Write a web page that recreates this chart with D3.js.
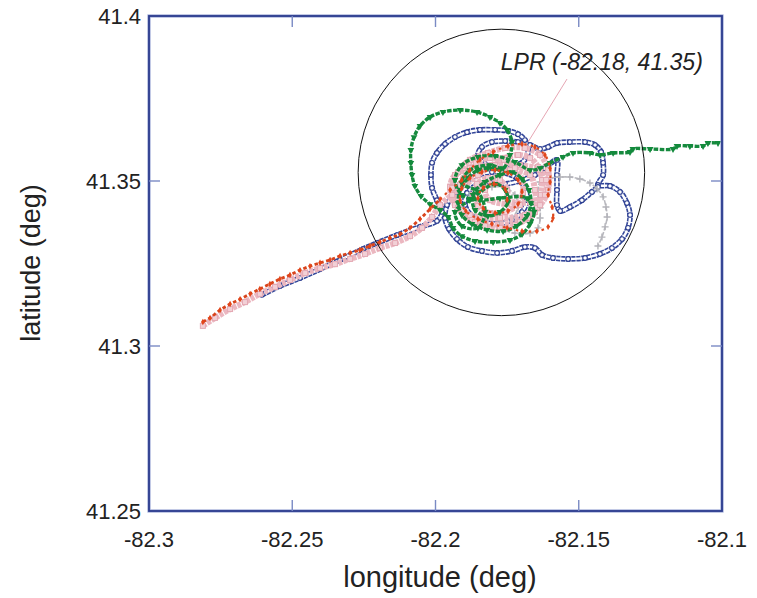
<!DOCTYPE html>
<html><head><meta charset="utf-8">
<script src="https://cdn.jsdelivr.net/npm/d3@7"></script>
<style>body{margin:0;background:#fff}svg{display:block}</style>
</head><body><svg id="c" width="757" height="598"></svg>
<script>
// ---------- data ----------
const xDomain = [-82.3, -82.1];
const yDomain = [41.25, 41.4];
const xTicks = [-82.3, -82.25, -82.2, -82.15, -82.1];
const yTicks = [41.25, 41.3, 41.35, 41.4];
const xTitle = "longitude (deg)";
const yTitle = "latitude (deg)";
const lprLabel = "LPR (-82.18, 41.35)";
const lprCircleCenter = [-82.177, 41.3526];
const lprCircleRadiusLon = 0.05;
const lprLabelPos = [-82.1772, 41.3836];
const lprPointer = [[-82.1541, 41.3809], [-82.1677, 41.3618]];

const blueTrack = [
[-82.2606,41.3155],[-82.2543,41.3182],[-82.2473,41.3206],[-82.2403,41.3233],[-82.2333,41.3261],
[-82.2253,41.3294],[-82.2204,41.3312],[-82.2134,41.3336],[-82.2054,41.3361],[-82.1995,41.3379],
[-82.1977,41.3406],[-82.1995,41.3442],[-82.2012,41.3479],[-82.2016,41.3518],[-82.2012,41.3555],
[-82.1995,41.3585],[-82.1967,41.3612],[-82.1932,41.3633],[-82.1890,41.3648],[-82.1845,41.3655],
[-82.1792,41.3655],[-82.1747,41.3652],[-82.1712,41.3642],[-82.1688,41.3624],[-82.1677,41.3600],
[-82.1681,41.3573],[-82.1705,41.3552],[-82.1747,41.3539],[-82.1792,41.3539],[-82.1827,41.3552],
[-82.1852,41.3576],[-82.1838,41.3603],[-82.1803,41.3618],[-82.1757,41.3621],[-82.1712,41.3618],
[-82.1670,41.3609],[-82.1635,41.3597],[-82.1607,41.3603],[-82.1576,41.3615],[-82.1531,41.3618],
[-82.1478,41.3618],[-82.1443,41.3609],[-82.1422,41.3588],[-82.1415,41.3555],[-82.1415,41.3518],
[-82.1433,41.3488],[-82.1391,41.3485],[-82.1356,41.3467],[-82.1332,41.3433],[-82.1321,41.3397],
[-82.1328,41.3358],[-82.1349,41.3324],[-82.1384,41.3297],[-82.1426,41.3279],[-82.1478,41.3267],
[-82.1537,41.3264],[-82.1590,41.3267],[-82.1628,41.3276],[-82.1653,41.3297],[-82.1688,41.3300],
[-82.1733,41.3288],[-82.1785,41.3282],[-82.1838,41.3288],[-82.1887,41.3300],[-82.1925,41.3324],
[-82.1953,41.3355],[-82.1967,41.3388],[-82.1960,41.3427],[-82.1932,41.3467],[-82.1894,41.3497],
[-82.1852,41.3518],[-82.1803,41.3527],[-82.1757,41.3524],[-82.1716,41.3509],[-82.1688,41.3479],
[-82.1681,41.3442],[-82.1698,41.3406],[-82.1733,41.3382],[-82.1782,41.3370],[-82.1831,41.3376],
[-82.1873,41.3394],[-82.1897,41.3427],[-82.1890,41.3464],[-82.1855,41.3488],[-82.1810,41.3497],
[-82.1757,41.3491],[-82.1653,41.3518],[-82.1618,41.3539],[-82.1576,41.3564],[-82.1576,41.3518],
[-82.1576,41.3473],[-82.1576,41.3427],[-82.1565,41.3409],[-82.1531,41.3421],[-82.1489,41.3442],
[-82.1454,41.3467],[-82.1433,41.3482]
];

const grayTrack = [
[-82.1880,41.3458],[-82.1845,41.3473],[-82.1803,41.3482],[-82.1757,41.3479],[-82.1723,41.3458],
[-82.1712,41.3421],[-82.1733,41.3388],[-82.1775,41.3376],[-82.1757,41.3352],[-82.1723,41.3342],
[-82.1670,41.3342],[-82.1642,41.3358],[-82.1635,41.3388],[-82.1635,41.3418],[-82.1642,41.3458],
[-82.1635,41.3497],[-82.1600,41.3509],[-82.1565,41.3512],[-82.1531,41.3512],[-82.1496,41.3506],
[-82.1461,41.3494],[-82.1436,41.3476],[-82.1415,41.3452],[-82.1405,41.3421],[-82.1401,41.3391],
[-82.1408,41.3361],[-82.1419,41.3330],[-82.1433,41.3303]
];

const pinkTrack = [
[-82.2812,41.3061],[-82.2770,41.3085],[-82.2717,41.3112],[-82.2665,41.3133],[-82.2613,41.3158],
[-82.2560,41.3179],[-82.2508,41.3200],[-82.2455,41.3221],[-82.2403,41.3236],[-82.2351,41.3248],
[-82.2298,41.3264],[-82.2246,41.3279],[-82.2194,41.3297],[-82.2141,41.3312],[-82.2089,41.3333],
[-82.2047,41.3358],[-82.2012,41.3391],[-82.1984,41.3427],[-82.1942,41.3458],[-82.1897,41.3488],
[-82.1852,41.3518],[-82.1803,41.3548],[-82.1757,41.3570],[-82.1712,41.3579],[-82.1670,41.3570],
[-82.1642,41.3542],[-82.1628,41.3503],[-82.1632,41.3458],[-82.1646,41.3418],[-82.1677,41.3388],
[-82.1723,41.3367],[-82.1775,41.3358],[-82.1827,41.3364],[-82.1873,41.3382],[-82.1908,41.3412],
[-82.1921,41.3448],[-82.1914,41.3488],[-82.1894,41.3524],[-82.1859,41.3555],[-82.1810,41.3570],
[-82.1761,41.3564],[-82.1723,41.3539],[-82.1698,41.3503],[-82.1695,41.3464],[-82.1716,41.3427],
[-82.1757,41.3406],[-82.1810,41.3403],[-82.1852,41.3424],[-82.1869,41.3458],[-82.1855,41.3491],
[-82.1817,41.3509],[-82.1775,41.3503],[-82.1750,41.3473],[-82.1747,41.3442],[-82.1670,41.3436],
[-82.1618,41.3458],[-82.1614,41.3503],[-82.1635,41.3533],[-82.1705,41.3548],[-82.1792,41.3548],
[-82.1880,41.3539],[-82.1932,41.3518],[-82.1949,41.3482],[-82.1932,41.3427],[-82.1880,41.3397],
[-82.1775,41.3388],[-82.1688,41.3397],[-82.1635,41.3427],[-82.1607,41.3473],[-82.1607,41.3533],
[-82.1635,41.3579],[-82.1688,41.3600],[-82.1757,41.3600],[-82.1817,41.3585],[-82.1880,41.3564],
[-82.1921,41.3527],[-82.1942,41.3479],[-82.1921,41.3418],[-82.1862,41.3376],[-82.1705,41.3376],
[-82.1653,41.3406],[-82.1653,41.3473],[-82.1670,41.3518],[-82.1740,41.3533],[-82.1827,41.3473],
[-82.1810,41.3442],[-82.1705,41.3427]
];

const greenTrack = [
[-82.1775,41.3533],[-82.1817,41.3539],[-82.1852,41.3533],[-82.1887,41.3509],[-82.1914,41.3473],
[-82.1921,41.3433],[-82.1908,41.3397],[-82.1873,41.3370],[-82.1820,41.3352],[-82.1764,41.3348],
[-82.1716,41.3364],[-82.1681,41.3394],[-82.1667,41.3433],[-82.1674,41.3473],[-82.1698,41.3506],
[-82.1733,41.3527],[-82.1775,41.3518],[-82.1827,41.3497],[-82.1869,41.3458],[-82.1862,41.3412],
[-82.1817,41.3394],[-82.1775,41.3406],[-82.1747,41.3436],[-82.1757,41.3473],[-82.1792,41.3491],
[-82.1880,41.3442],[-82.1932,41.3406],[-82.1908,41.3364],[-82.1852,41.3358],[-82.1827,41.3406],
[-82.1852,41.3467],[-82.1908,41.3494],[-82.1880,41.3533],[-82.1810,41.3548],
[-82.1764,41.3539],[-82.1740,41.3579],[-82.1733,41.3618],[-82.1750,41.3655],[-82.1775,41.3676],
[-82.1810,41.3694],[-82.1855,41.3709],[-82.1914,41.3715],[-82.1974,41.3709],[-82.2019,41.3694],
[-82.2054,41.3667],[-82.2075,41.3633],[-82.2086,41.3594],[-82.2086,41.3555],[-82.2082,41.3518],
[-82.2072,41.3485],[-82.2051,41.3455],[-82.2019,41.3430],[-82.1984,41.3412],[-82.1956,41.3391],
[-82.1939,41.3358],[-82.1908,41.3333],[-82.1862,41.3318],[-82.1799,41.3315],[-82.1740,41.3321],
[-82.1698,41.3339],[-82.1670,41.3370],[-82.1656,41.3406],[-82.1681,41.3448],[-82.1775,41.3448],
[-82.1845,41.3442],[-82.1908,41.3458],[-82.1932,41.3503],[-82.1908,41.3548],[-82.1852,41.3573],
[-82.1792,41.3576],[-82.1723,41.3558],[-82.1670,41.3533],[-82.1635,41.3539],[-82.1600,41.3555],
[-82.1555,41.3573],[-82.1520,41.3585],[-82.1461,41.3585],[-82.1426,41.3579],[-82.1380,41.3585],
[-82.1321,41.3588],[-82.1311,41.3597],[-82.1251,41.3597],[-82.1171,41.3597],[-82.1157,41.3606],
[-82.1112,41.3606],[-82.1066,41.3606],[-82.1049,41.3615],[-82.1014,41.3615]
];

const redTrack = [
[-82.2812,41.3073],[-82.2787,41.3085],[-82.2752,41.3109],[-82.2717,41.3127],[-82.2682,41.3142],
[-82.2647,41.3158],[-82.2613,41.3173],[-82.2578,41.3188],[-82.2543,41.3203],[-82.2508,41.3215],
[-82.2473,41.3230],[-82.2438,41.3242],[-82.2403,41.3252],[-82.2368,41.3261],[-82.2333,41.3273],
[-82.2298,41.3282],[-82.2264,41.3291],[-82.2229,41.3303],[-82.2194,41.3315],[-82.2159,41.3327],
[-82.2124,41.3339],[-82.2089,41.3358],[-82.2054,41.3385],[-82.2019,41.3415],[-82.1984,41.3445],
[-82.1949,41.3473],[-82.1908,41.3503],[-82.1880,41.3533],[-82.1845,41.3564],[-82.1799,41.3588],
[-82.1747,41.3606],[-82.1698,41.3612],[-82.1653,41.3603],[-82.1618,41.3579],[-82.1600,41.3539],
[-82.1600,41.3497],[-82.1607,41.3458],[-82.1593,41.3421],[-82.1590,41.3388],[-82.1607,41.3361],
[-82.1646,41.3348],[-82.1698,41.3348],[-82.1750,41.3358],[-82.1803,41.3370],[-82.1852,41.3385],
[-82.1894,41.3409],[-82.1914,41.3442],[-82.1908,41.3479],[-82.1880,41.3509],[-82.1838,41.3527],
[-82.1792,41.3533],[-82.1747,41.3524],[-82.1712,41.3503],[-82.1698,41.3467],[-82.1712,41.3430],
[-82.1747,41.3409],[-82.1792,41.3403],[-82.1834,41.3418],[-82.1852,41.3448],[-82.1834,41.3479],
[-82.1796,41.3491],[-82.1757,41.3476],[-82.1750,41.3442]
];

// ---------- chart ----------
const svg = d3.select("#c");
const x = d3.scaleLinear().domain(xDomain).range([149, 722]);
const y = d3.scaleLinear().domain(yDomain).range([511, 16]);
const FONT = "'Liberation Sans', Arial, Helvetica, sans-serif";

svg.append("defs").append("clipPath").attr("id", "plot")
  .append("rect").attr("x", x(xDomain[0])).attr("y", y(yDomain[1]))
  .attr("width", x(xDomain[1]) - x(xDomain[0])).attr("height", y(yDomain[0]) - y(yDomain[1]));

const g = svg.append("g").attr("clip-path", "url(#plot)");
const line = d3.line().x(d => x(d[0])).y(d => y(d[1])).curve(d3.curveCatmullRom.alpha(0.5));
const nApproachRed = 25; // first points of red track = approach leg

// blue open circles
g.append("path").attr("d", line(blueTrack)).attr("fill", "none")
  .attr("stroke", "#34479a").attr("stroke-width", 5.6).attr("stroke-dasharray", "4.2,0.8");
g.append("path").attr("d", line(blueTrack)).attr("fill", "none")
  .attr("stroke", "#ffffff").attr("stroke-width", 2.4);
g.selectAll(".bm").data(blueTrack).join("circle").attr("class", "bm")
  .attr("cx", d => x(d[0])).attr("cy", d => y(d[1])).attr("r", 2.3)
  .attr("fill", "#fff").attr("stroke", "#2b3d90").attr("stroke-width", 1.1);

// gray plus
g.append("path").attr("d", line(grayTrack)).attr("fill", "none")
  .attr("stroke", "#b9b9bf").attr("stroke-width", 1.6).attr("stroke-dasharray", "5,1.5");
g.selectAll(".gp").data(grayTrack).join("path").attr("class", "gp")
  .attr("d", d => { const cx = x(d[0]), cy = y(d[1]); return `M${cx-3.5},${cy}H${cx+3.5}M${cx},${cy-3.5}V${cy+3.5}`; })
  .attr("stroke", "#b3b3b9").attr("stroke-width", 1.4);

// pink squares
g.append("path").attr("d", line(pinkTrack)).attr("fill", "none")
  .attr("stroke", "#ebb7c0").attr("stroke-width", 6).attr("stroke-dasharray", "4,1");
g.selectAll(".pk").data(pinkTrack).join("rect").attr("class", "pk")
  .attr("x", d => x(d[0]) - 2.5).attr("y", d => y(d[1]) - 2.5).attr("width", 5).attr("height", 5)
  .attr("fill", "#f2d0d6").attr("stroke", "#e4a9b4").attr("stroke-width", 1);

// green down triangles
g.append("path").attr("d", line(greenTrack)).attr("fill", "none")
  .attr("stroke", "#168a3e").attr("stroke-width", 3.4).attr("stroke-dasharray", "4.5,1.5");
const tri = d3.symbol().type(d3.symbolTriangle).size(20);
g.selectAll(".gt").data(greenTrack).join("path").attr("class", "gt")
  .attr("d", tri).attr("transform", d => `translate(${x(d[0])},${y(d[1])}) rotate(180)`)
  .attr("fill", "#138a3c");

// red markers: approach leg dense, loops sparse
g.append("path").attr("d", line(redTrack.slice(0, nApproachRed))).attr("fill", "none")
  .attr("stroke", "#d9441c").attr("stroke-width", 2.8).attr("stroke-dasharray", "3.5,2.5");
g.append("path").attr("d", line(redTrack.slice(nApproachRed - 1))).attr("fill", "none")
  .attr("stroke", "#dc4a20").attr("stroke-width", 2.2).attr("stroke-dasharray", "2.5,4");
const dia = d3.symbol().type(d3.symbolDiamond).size(12);
g.selectAll(".rd").data(redTrack).join("path").attr("class", "rd")
  .attr("d", dia).attr("transform", d => `translate(${x(d[0])},${y(d[1])})`)
  .attr("fill", "#e2461b");

// LPR circle
const cr = x(lprCircleCenter[0] + lprCircleRadiusLon) - x(lprCircleCenter[0]);
g.append("circle").attr("cx", x(lprCircleCenter[0])).attr("cy", y(lprCircleCenter[1]))
  .attr("r", cr).attr("fill", "none").attr("stroke", "#111").attr("stroke-width", 1);

// pointer
g.append("line").attr("x1", x(lprPointer[0][0])).attr("y1", y(lprPointer[0][1]))
  .attr("x2", x(lprPointer[1][0])).attr("y2", y(lprPointer[1][1]))
  .attr("stroke", "#e6a6b3").attr("stroke-width", 1);

svg.append("text").attr("x", x(lprLabelPos[0])).attr("y", y(lprLabelPos[1]))
  .attr("font-family", FONT).attr("font-style", "italic").attr("font-size", 23)
  .attr("fill", "#222").text(lprLabel);

// frame
const X0 = x(xDomain[0]), X1 = x(xDomain[1]), Y0 = y(yDomain[0]), Y1 = y(yDomain[1]);
svg.append("rect").attr("x", X0).attr("y", Y1).attr("width", X1 - X0).attr("height", Y0 - Y1)
  .attr("fill", "none").attr("stroke", "#9aa6d4").attr("stroke-width", 3.2);
svg.append("rect").attr("x", X0).attr("y", Y1).attr("width", X1 - X0).attr("height", Y0 - Y1)
  .attr("fill", "none").attr("stroke", "#2c3c8e").attr("stroke-width", 1.8);

// ticks (inner, all sides)
const TL = 11, tickColor = "#7a8ac4";
xTicks.slice(1, -1).forEach(t => {
  svg.append("line").attr("x1", x(t)).attr("x2", x(t)).attr("y1", Y0).attr("y2", Y0 - TL).attr("stroke", tickColor).attr("stroke-width", 1.4);
  svg.append("line").attr("x1", x(t)).attr("x2", x(t)).attr("y1", Y1).attr("y2", Y1 + TL).attr("stroke", tickColor).attr("stroke-width", 1.4);
});
yTicks.slice(1, -1).forEach(t => {
  svg.append("line").attr("y1", y(t)).attr("y2", y(t)).attr("x1", X0).attr("x2", X0 + TL).attr("stroke", tickColor).attr("stroke-width", 1.4);
  svg.append("line").attr("y1", y(t)).attr("y2", y(t)).attr("x1", X1).attr("x2", X1 - TL).attr("stroke", tickColor).attr("stroke-width", 1.4);
});

// tick labels
svg.selectAll(".xl").data(xTicks).join("text").attr("class", "xl")
  .attr("x", d => x(d)).attr("y", Y0 + 36).attr("text-anchor", "middle")
  .attr("font-family", FONT).attr("font-size", 22).attr("fill", "#222").text(d => String(d));
svg.selectAll(".yl").data(yTicks).join("text").attr("class", "yl")
  .attr("x", X0 - 8).attr("y", d => y(d) + 8).attr("text-anchor", "end")
  .attr("font-family", FONT).attr("font-size", 22).attr("fill", "#222").text(d => String(d));

// titles
svg.append("text").attr("x", 440).attr("y", 587).attr("text-anchor", "middle")
  .attr("font-family", FONT).attr("font-size", 29).attr("fill", "#222").text(xTitle);
svg.append("text").attr("transform", "translate(40,263) rotate(-90)").attr("text-anchor", "middle")
  .attr("font-family", FONT).attr("font-size", 27).attr("fill", "#222").text(yTitle);
</script>
</body></html>
